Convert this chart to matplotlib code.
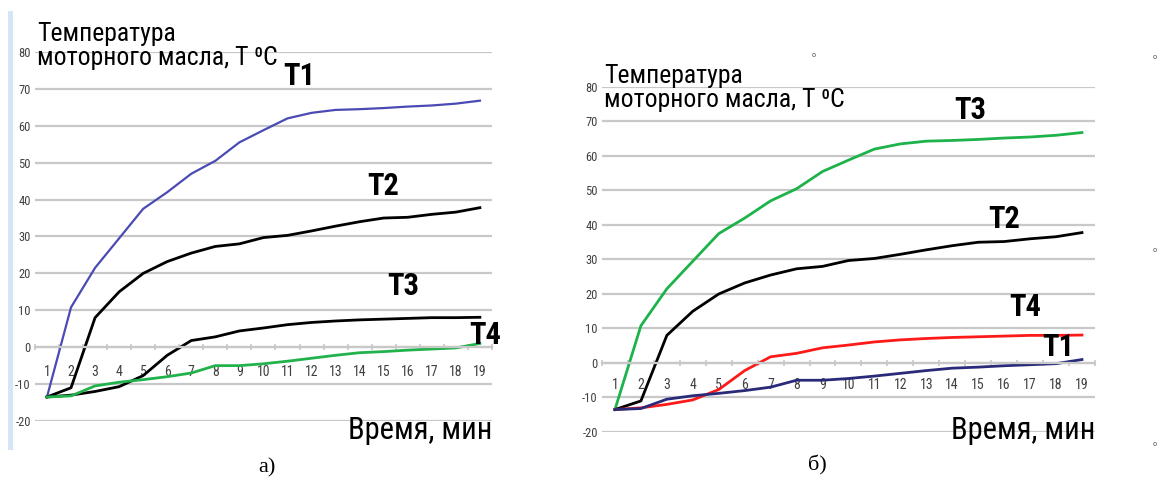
import matplotlib
matplotlib.use("Agg")
import matplotlib.pyplot as plt
from matplotlib.patches import Rectangle

minutes = list(range(1, 20))
upper = [-13.5, 10.8, 21.5, 29.5, 37.5, 42.0, 47.0, 50.5, 55.5, 58.8,
         62.0, 63.5, 64.3, 64.5, 64.8, 65.2, 65.5, 66.0, 66.8]
t2 = [-13.5, -11.0, 8.0, 15.0, 20.0, 23.2, 25.5, 27.3, 28.0, 29.7,
      30.3, 31.5, 32.8, 34.0, 35.0, 35.2, 36.0, 36.6, 37.8]
middle = [-13.5, -13.0, -12.0, -10.7, -7.7, -2.2, 1.8, 2.8, 4.4, 5.2,
          6.1, 6.7, 7.1, 7.4, 7.6, 7.8, 8.0, 8.0, 8.1]
lower = [-13.5, -13.2, -10.5, -9.5, -8.8, -8.0, -7.0, -5.0, -5.0, -4.5,
         -3.8, -3.0, -2.2, -1.5, -1.2, -0.8, -0.5, -0.2, 1.0]
yticks = list(range(-20, 81, 10))

plt.rcParams["font.family"] = ["Roboto Condensed", "DejaVu Sans"]

fig = plt.figure(figsize=(11.61, 4.83), dpi=100)


def make_axes(rect, pad):
    ax = fig.add_axes(rect)
    ax.set_xlim(0.5, 19.5)
    ax.set_ylim(-20, 80)
    ax.set_yticks(yticks)
    ax.set_yticklabels([str(v) for v in yticks], fontsize=9, color="#404040")
    ax.grid(axis="y", color="#c8c8c8", lw=1.6)
    ax.set_axisbelow(True)
    for s in ["top", "right", "left"]:
        ax.spines[s].set_visible(False)
    ax.spines["bottom"].set_position(("data", 0))
    ax.spines["bottom"].set_color("#c8c8c8")
    ax.spines["bottom"].set_linewidth(1.6)
    ax.set_xticks(minutes)
    ax.set_xticklabels([str(m) for m in minutes], fontsize=10, color="#404040")
    ax.tick_params(axis="x", length=0, pad=pad)
    ax.set_xticks([m + 0.5 for m in range(0, 20)], minor=True)
    ax.tick_params(axis="x", which="minor", length=5, direction="inout",
                   color="#c8c8c8", width=1.2)
    ax.tick_params(axis="y", length=0, pad=3)
    ax.patch.set_visible(False)
    return ax


# panel а)
ax1 = make_axes([0.0301, 0.1284, 0.3936, 0.7640], 13)
ax1.plot(minutes, upper, color="#4a4ab4", lw=1.6)
ax1.plot(minutes, t2, color="black", lw=2)
ax1.plot(minutes, middle, color="black", lw=2)
ax1.plot(minutes, lower, color="#22b24c", lw=2)
ax1.text(0.005, 0.952, "Температура\nмоторного масла, T ⁰C", transform=ax1.transAxes,
         fontsize=18.5, va="bottom", ha="left", linespacing=1.0)
ax1.text(11.5, 69.5, "T1", fontsize=22, fontweight="bold", ha="center", va="bottom")
ax1.text(15.0, 39.5, "T2", fontsize=22, fontweight="bold", ha="center", va="bottom")
ax1.text(15.8, 12.5, "T3", fontsize=22, fontweight="bold", ha="center", va="bottom")
ax1.text(19.2, -0.8, "T4", fontsize=22, fontweight="bold", ha="center", va="bottom")
ax1.text(1.0, -0.025, "Время, мин", transform=ax1.transAxes, fontsize=22,
         ha="right", va="center")

# panel б)
ax2 = make_axes([0.5185, 0.1056, 0.4246, 0.7143], 11)
ax2.plot(minutes, upper, color="#1db34a", lw=2)
ax2.plot(minutes, t2, color="black", lw=2)
ax2.plot(minutes, middle, color="#ff1a1a", lw=2)
ax2.plot(minutes, lower, color="#2a2a7a", lw=2)
ax2.text(0.005, 0.927, "Температура\nмоторного масла, T ⁰C", transform=ax2.transAxes,
         fontsize=18.5, va="bottom", ha="left", linespacing=1.0)
ax2.text(14.7, 69.0, "T3", fontsize=22, fontweight="bold", ha="center", va="bottom")
ax2.text(16.0, 37.5, "T2", fontsize=22, fontweight="bold", ha="center", va="bottom")
ax2.text(16.8, 12.0, "T4", fontsize=22, fontweight="bold", ha="center", va="bottom")
ax2.text(18.1, 0.4, "T1", fontsize=22, fontweight="bold", ha="center", va="bottom")
ax2.text(1.0, 0.005, "Время, мин", transform=ax2.transAxes, fontsize=22,
         ha="right", va="center")

# captions
fig.text(267 / 1161, 1 - 468 / 483, "а)", fontsize=16, family="Liberation Serif",
         ha="center", va="center")
fig.text(817 / 1161, 1 - 465 / 483, "б)", fontsize=16, family="Liberation Serif",
         ha="center", va="center")

# light blue bar on the left edge
fig.patches.append(Rectangle((8 / 1161, 1 - 450 / 483), 5 / 1161, 439 / 483,
                             transform=fig.transFigure, color="#d6e4f8", lw=0))

# small stray marks from the original
for px, py in [(814, 55), (1155, 57), (1155, 250), (1155, 444)]:
    fig.text(px / 1161, 1 - py / 483, "o", fontsize=6, color="#555555",
             ha="center", va="center")

fig.savefig("out.png", dpi=100)
